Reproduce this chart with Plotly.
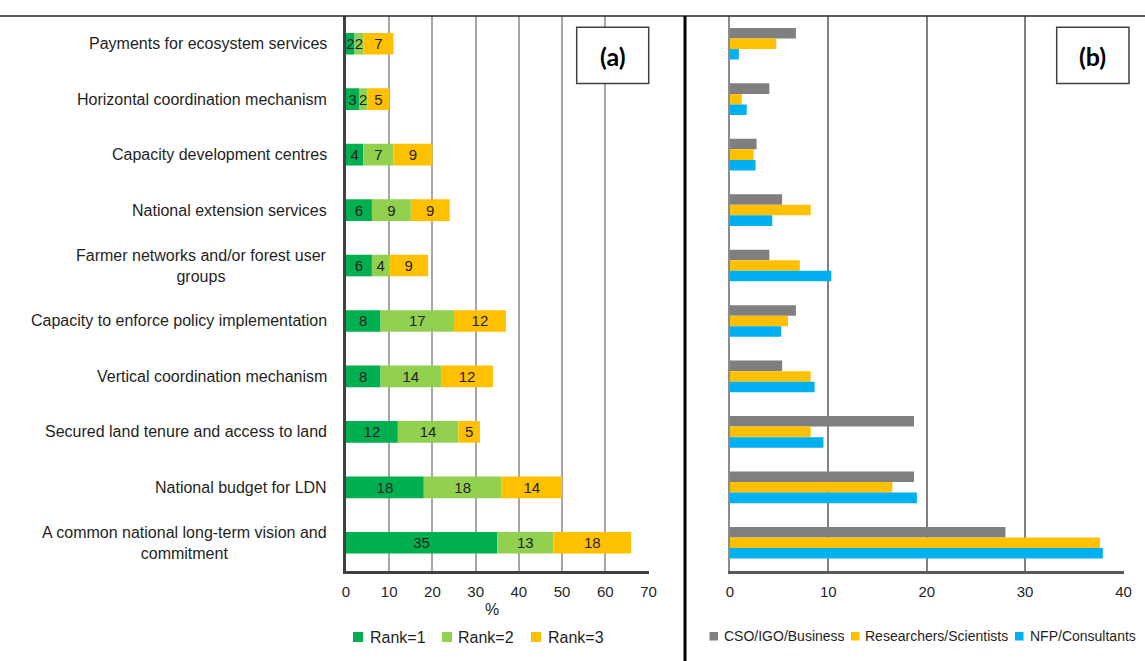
import plotly.graph_objects as go

# ---------------- data ----------------
categories = [
    "Payments for ecosystem services",
    "Horizontal coordination mechanism ",
    "Capacity development centres",
    "National extension services",
    "Farmer networks and/or forest user<br>groups",
    "Capacity to enforce policy implementation",
    "Vertical coordination mechanism ",
    "Secured land tenure and access to land",
    "National budget for LDN",
    "A common national long-term vision and<br>commitment",
]

# panel (a): share of respondents ranking each factor 1st / 2nd / 3rd (%)
rank1 = [2, 3, 4, 6, 6, 8, 8, 12, 18, 35]
rank2 = [2, 2, 7, 9, 4, 17, 14, 14, 18, 13]
rank3 = [7, 5, 9, 9, 9, 12, 12, 5, 14, 18]
rank_names = ["Rank=1", "Rank=2", "Rank=3"]

# panel (b): first-ranked factor by stakeholder group (%)
cso_igo_business = [6.7, 4.0, 2.7, 5.3, 4.0, 6.7, 5.3, 18.7, 18.7, 28.0]
researchers_scientists = [4.7, 1.2, 2.4, 8.2, 7.1, 5.9, 8.2, 8.2, 16.5, 37.6]
nfp_consultants = [0.9, 1.7, 2.6, 4.3, 10.3, 5.2, 8.6, 9.5, 19.0, 37.9]
group_names = ["CSO/IGO/Business", "Researchers/Scientists", "NFP/Consultants"]

x_ticks_a = [0, 10, 20, 30, 40, 50, 60, 70]
x_ticks_b = [0, 10, 20, 30, 40]

# ---------------- styling ----------------
W, H = 1145, 661
FONT = "Liberation Sans, Arial, sans-serif"
TXT = "#1f1f1f"
rank_colors = ["#00B050", "#92D050", "#FFC000"]
group_colors = ["#7F7F7F", "#FFC000", "#00B0F0"]


def fx(px):
    return px / W


def fy(py):
    return 1 - py / H


PLOT_TOP, PLOT_BOTTOM = 16, 570.5

fig = go.Figure()

# ---- (a) stacked horizontal bars, stacked via explicit base ----
stack_bar_width = 0.39
base = [0] * len(categories)
for name, vals, col in zip(rank_names, [rank1, rank2, rank3], rank_colors):
    fig.add_trace(go.Bar(
        y=categories, x=vals, base=list(base), orientation="h",
        name=name, marker=dict(color=col, line=dict(width=0)),
        width=stack_bar_width, offset=-stack_bar_width / 2,
        text=[str(v) for v in vals], textposition="inside", textangle=0,
        insidetextanchor="middle", constraintext="none",
        textfont=dict(family=FONT, size=15, color=TXT),
        xaxis="x", yaxis="y", showlegend=False,
    ))
    base = [b + v for b, v in zip(base, vals)]

# ---- (b) grouped horizontal bars ----
gw = 0.19
for i, (name, vals, col) in enumerate(zip(group_names,
                                         [cso_igo_business, researchers_scientists, nfp_consultants],
                                         group_colors)):
    fig.add_trace(go.Bar(
        y=categories, x=vals, orientation="h", name=name,
        marker=dict(color=col, line=dict(width=0)),
        width=gw, offset=-1.5 * gw + i * gw,
        xaxis="x2", yaxis="y2", showlegend=False,
    ))

tickfont = dict(family=FONT, size=15, color="#262626")

fig.update_layout(
    width=W, height=H, autosize=False,
    margin=dict(l=0, r=0, t=0, b=0, pad=0),
    paper_bgcolor="white", plot_bgcolor="white",
    barmode="overlay", showlegend=False,
    font=dict(family=FONT, color=TXT),
    xaxis=dict(
        domain=[fx(346), fx(648.5)], range=[0, 70], tickvals=x_ticks_a,
        showgrid=True, gridcolor="#A6A6A6", gridwidth=2, zeroline=False,
        showline=True, linecolor="#404040", linewidth=3, automargin=False,
        ticks="", tickfont=tickfont, ticklabelstandoff=5, anchor="y",
    ),
    yaxis=dict(
        domain=[fy(PLOT_BOTTOM), fy(PLOT_TOP)], type="category",
        categoryorder="array", categoryarray=categories,
        autorange="reversed", showticklabels=False, showgrid=False,
        showline=True, linecolor="#404040", linewidth=3, ticks="",
        anchor="x", automargin=False,
    ),
    xaxis2=dict(
        domain=[fx(730), fx(1123.5)], range=[0, 40], tickvals=x_ticks_b,
        showgrid=True, gridcolor="#808080", gridwidth=2, zeroline=False,
        showline=True, linecolor="#595959", linewidth=3, automargin=False,
        ticks="", tickfont=tickfont, ticklabelstandoff=5, anchor="y2",
    ),
    yaxis2=dict(
        domain=[fy(PLOT_BOTTOM), fy(PLOT_TOP)], type="category",
        categoryorder="array", categoryarray=categories,
        autorange="reversed", showticklabels=False, showgrid=False,
        showline=True, linecolor="#8C8C8C", linewidth=1.5, ticks="",
        anchor="x2", automargin=False,
    ),
)

# category labels, right-aligned block with centred lines
for cat in categories:
    fig.add_annotation(
        x=fx(329), xref="paper", y=cat, yref="y", xanchor="right",
        yanchor="middle", align="center", text=cat.strip(), showarrow=False,
        font=dict(family=FONT, size=16, color=TXT),
    )

# axis title of panel (a)
fig.add_annotation(x=fx(492), y=fy(609), xref="paper", yref="paper",
                   xanchor="center", yanchor="middle",
                   text="%", showarrow=False,
                   font=dict(family=FONT, size=16, color=TXT))

# legends: coloured key squares followed by series names
legend_a = [(353, 367.5), (442, 456.5), (531, 545.5)]
for (sx, tx), name, col in zip(legend_a, rank_names, rank_colors):
    fig.add_shape(type="rect", xref="paper", yref="paper",
                  x0=fx(sx), x1=fx(sx + 10), y0=fy(642), y1=fy(632),
                  line=dict(width=0), fillcolor=col)
    fig.add_annotation(x=fx(tx), y=fy(637), xref="paper", yref="paper",
                       xanchor="left", yanchor="middle", text=name,
                       showarrow=False,
                       font=dict(family=FONT, size=16, color=TXT))

legend_b = [(709.5, 721.5), (851, 863), (1015, 1027.5)]
for (sx, tx), name, col in zip(legend_b, group_names, group_colors):
    fig.add_shape(type="rect", xref="paper", yref="paper",
                  x0=fx(sx), x1=fx(sx + 8.5), y0=fy(640.5), y1=fy(632),
                  line=dict(width=0), fillcolor=col)
    fig.add_annotation(x=fx(tx), y=fy(636), xref="paper", yref="paper",
                       xanchor="left", yanchor="middle", text=name,
                       showarrow=False,
                       font=dict(family=FONT, size=14, color=TXT))

# frame lines
fig.add_shape(type="line", xref="paper", yref="paper",
              x0=0, x1=1, y0=fy(16), y1=fy(16),
              line=dict(color="#262626", width=1.5))
fig.add_shape(type="line", xref="paper", yref="paper",
              x0=fx(685), x1=fx(685), y0=fy(16), y1=0,
              line=dict(color="black", width=3))

# panel tags
for label, x0, x1 in [("(a)", 576.7, 648.7), ("(b)", 1056.7, 1129)]:
    fig.add_shape(type="rect", xref="paper", yref="paper",
                  x0=fx(x0), x1=fx(x1), y0=fy(83.5), y1=fy(27.3),
                  line=dict(color="#404040", width=1.5), fillcolor="white",
                  layer="above")
    fig.add_annotation(x=fx((x0 + x1) / 2), y=fy(55.5), xref="paper",
                       yref="paper", xanchor="center", yanchor="middle",
                       text="<b>%s</b>" % label, showarrow=False,
                       font=dict(family="Lato, Open Sans, sans-serif", size=25,
                                 color="black"))

fig.write_html("out.html")
